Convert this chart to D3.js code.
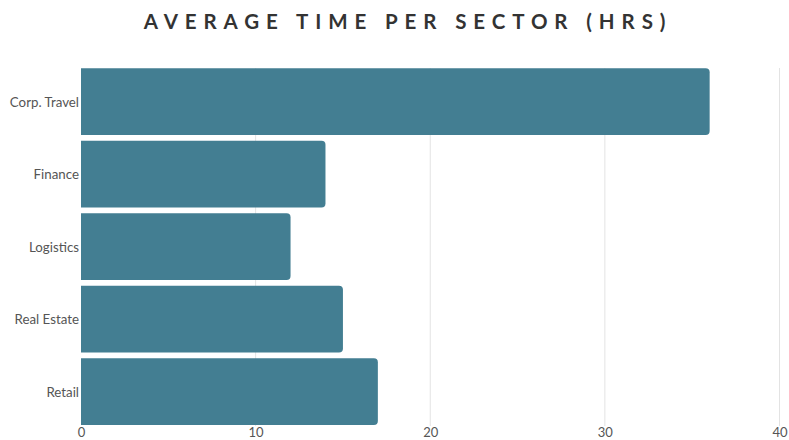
<!DOCTYPE html>
<html>
<head>
<meta charset="utf-8">
<script src="https://cdn.jsdelivr.net/npm/d3@7"></script>
<style>
  html, body { margin: 0; padding: 0; background: #fff; }
  svg { display: block; }
</style>
</head>
<body>
<script>
// Chart data
const sectors = ["Corp. Travel", "Finance", "Logistics", "Real Estate", "Retail"];
const hours = [36, 14, 12, 15, 17];
const xTicks = [0, 10, 20, 30, 40];
const title = "AVERAGE TIME PER SECTOR (HRS)";

const W = 789, H = 440;
const svg = d3.select("body").append("svg").attr("width", W).attr("height", H);

const x = d3.scaleLinear().domain([0, 40]).range([81, 779.5]);
const y = d3.scaleBand().domain(sectors).range([65.4, 427.9])
  .paddingInner(0.08).paddingOuter(0.04);

// Title
svg.append("text")
  .attr("x", 408).attr("y", 29)
  .attr("text-anchor", "middle")
  .style("font-family", "Lato, sans-serif")
  .style("font-weight", "700")
  .style("font-size", "20.5px")
  .style("letter-spacing", "6.9px")
  .style("fill", "#333")
  .text(title);

// Vertical gridlines
svg.append("g").selectAll("line")
  .data(xTicks.filter(d => d > 0))
  .join("line")
  .attr("x1", d => x(d)).attr("x2", d => x(d))
  .attr("y1", 68).attr("y2", 426)
  .attr("stroke", "#e3e3e3").attr("stroke-width", 1);

// X axis labels
const xAxis = d3.axisBottom(x).tickValues(xTicks).tickSize(0).tickPadding(0);
const gx = svg.append("g").attr("transform", "translate(0,428)").call(xAxis);
gx.select(".domain").remove();
gx.selectAll("text")
  .attr("dy", "0")
  .attr("y", 9)
  .style("font-family", "Lato, sans-serif")
  .style("font-size", "13px")
  .style("fill", "#555");

// Y axis labels
const yAxis = d3.axisLeft(y).tickSize(0).tickPadding(0);
const gy = svg.append("g").attr("transform", "translate(79,1)").call(yAxis);
gy.select(".domain").remove();
gy.selectAll("text")
  .style("font-family", "Lato, sans-serif")
  .style("font-size", "13.3px")
  .style("fill", "#555");

// Bars: square left edge, rounded right corners
const r = 4;
function barPath(d, i) {
  const x0 = x(0), x1 = x(hours[i]);
  const y0 = y(d), h = y.bandwidth();
  return `M${x0},${y0} H${x1 - r} Q${x1},${y0} ${x1},${y0 + r} V${y0 + h - r} Q${x1},${y0 + h} ${x1 - r},${y0 + h} H${x0} Z`;
}
svg.append("g").selectAll("path")
  .data(sectors)
  .join("path")
  .attr("d", barPath)
  .attr("fill", "#437e92");
</script>
</body>
</html>
